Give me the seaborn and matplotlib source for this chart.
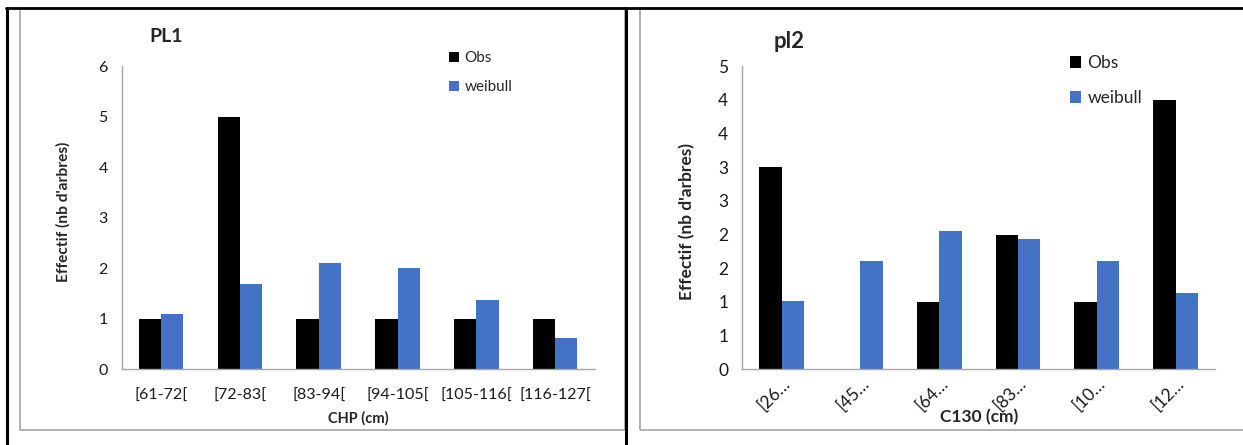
import numpy as np
import pandas as pd
import matplotlib
matplotlib.use("Agg")
import matplotlib.pyplot as plt
import seaborn as sns
from matplotlib.lines import Line2D
from matplotlib.patches import Rectangle, Patch

# ---------------- data ----------------
pl1_classes = ["[61-72[", "[72-83[", "[83-94[", "[94-105[", "[105-116[", "[116-127["]
pl1_obs = [1, 5, 1, 1, 1, 1]
pl1_weibull = [1.09, 1.69, 2.10, 2.00, 1.37, 0.61]

pl2_classes = ["[26…", "[45…", "[64…", "[83…", "[10…", "[12…"]
pl2_obs = [3, 0, 1, 2, 1, 4]
pl2_weibull = [1.02, 1.61, 2.06, 1.94, 1.61, 1.14]

series_names = ["Obs", "weibull"]
pl1_yticks = [0, 1, 2, 3, 4, 5, 6]
pl2_yticks = [0, 0.5, 1, 1.5, 2, 2.5, 3, 3.5, 4, 4.5]
pl2_yticklabels = ["0", "1", "1", "2", "2", "3", "3", "4", "4", "5"]

colors = ["#000000", "#4472C4"]
axis_gray = "#A6A6A6"
frame_gray = "#A6A6A6"

sns.set_theme(style="white")
plt.rcParams["font.family"] = ["Lato", "DejaVu Sans"]

W, H = 1243, 445
fig = plt.figure(figsize=(W / 100, H / 100), dpi=100)
fig.patch.set_facecolor("white")


def fx(px):
    return px / W


def fy(py):
    return 1 - py / H


def long_df(classes, obs, wb):
    return pd.DataFrame({
        "classe": classes * 2,
        "effectif": list(obs) + list(wb),
        "serie": [series_names[0]] * len(classes) + [series_names[1]] * len(classes),
    })


def style_axis(ax, n):
    for s in ["top", "right"]:
        ax.spines[s].set_visible(False)
    for s in ["left", "bottom"]:
        ax.spines[s].set_color(axis_gray)
        ax.spines[s].set_linewidth(1.0)
    ax.set_xlim(-0.5, n - 0.5)
    ax.set_xticks(np.arange(-0.5, n, 1.0), minor=True)
    ax.tick_params(axis="x", which="major", length=0, pad=14)
    ax.tick_params(axis="x", which="minor", length=5, color=axis_gray, width=1, direction="out")
    ax.tick_params(axis="y", which="major", length=5, color=axis_gray, width=1, direction="out",
                   pad=5, labelsize=11.5, labelcolor="#1a1a1a")
    ax.grid(False)
    ax.set_facecolor("white")


AX_TOP, AX_BOT = 66.3, 369.3
AX_H = AX_BOT - AX_TOP

# ---------------- left chart ----------------
L0, L1 = 121.7, 594.6
axL = fig.add_axes([fx(L0), fy(AX_BOT), fx(L1) - fx(L0), fy(AX_TOP) - fy(AX_BOT)])
dfL = long_df(pl1_classes, pl1_obs, pl1_weibull)
sns.barplot(data=dfL, x="classe", y="effectif", hue="serie", palette=colors, saturation=1,
            width=0.566, linewidth=0, ax=axL, legend=False)
style_axis(axL, len(pl1_classes))
axL.set_ylim(0, 6)
axL.set_yticks(pl1_yticks)
axL.set_yticklabels([str(v) for v in pl1_yticks])
axL.tick_params(axis="x", labelsize=11.5, labelcolor="#1a1a1a")
axL.set_xlabel("CHP (cm)", fontsize=10.5, fontweight="bold", va="center")
axL.xaxis.set_label_coords((358 - L0) / (L1 - L0), (AX_BOT - 418) / AX_H)
axL.set_ylabel("Effectif (nb d'arbres)", fontsize=11.2, fontweight="bold", va="center")
axL.yaxis.set_label_coords((63 - L0) / (L1 - L0), (AX_BOT - 212) / AX_H)
fig.text(fx(166), fy(36), "PL1", fontsize=14, fontweight="bold", ha="center", va="center")
handles = [Patch(facecolor=c, edgecolor="none") for c in colors]
fig.legend(handles, series_names, loc="upper left", bbox_to_anchor=(fx(449), fy(51)),
           bbox_transform=fig.transFigure, frameon=False, fontsize=11,
           handlelength=0.65, handleheight=0.65, handletextpad=0.35, labelspacing=1.0,
           borderpad=0, borderaxespad=0)

# ---------------- right chart ----------------
R0, R1 = 742.2, 1215.0
axR = fig.add_axes([fx(R0), fy(AX_BOT), fx(R1) - fx(R0), fy(AX_TOP) - fy(AX_BOT)])
dfR = long_df(pl2_classes, pl2_obs, pl2_weibull)
sns.barplot(data=dfR, x="classe", y="effectif", hue="serie", palette=colors, saturation=1,
            width=0.566, linewidth=0, ax=axR, legend=False)
style_axis(axR, len(pl2_classes))
axR.set_ylim(0, 4.5)
axR.set_yticks(pl2_yticks)
axR.set_yticklabels(pl2_yticklabels)
axR.tick_params(axis="y", labelsize=12.5)
axR.tick_params(axis="x", labelsize=12.5, labelcolor="#1a1a1a", pad=4)
for lab in axR.get_xticklabels():
    lab.set_rotation(45)
    lab.set_ha("right")
    lab.set_va("top")
    lab.set_rotation_mode("anchor")
axR.set_xlabel("C130 (cm)", fontsize=12.5, fontweight="bold", va="center")
axR.xaxis.set_label_coords((979 - R0) / (R1 - R0), (AX_BOT - 417) / AX_H)
axR.set_ylabel("Effectif (nb d'arbres)", fontsize=12.5, fontweight="bold", va="center")
axR.yaxis.set_label_coords((687 - R0) / (R1 - R0), (AX_BOT - 222) / AX_H)
fig.text(fx(789), fy(41), "pl2", fontsize=16, fontweight="bold", ha="center", va="center")
fig.legend(handles, series_names, loc="upper left", bbox_to_anchor=(fx(1070), fy(55)),
           bbox_transform=fig.transFigure, frameon=False, fontsize=12.5,
           handlelength=0.65, handleheight=0.65, handletextpad=0.35, labelspacing=1.1,
           borderpad=0, borderaxespad=0)

# ---------------- frames ----------------
fig.add_artist(Rectangle((fx(20), fy(430)), fx(625) - fx(20), fy(8) - fy(430),
                         transform=fig.transFigure, fill=False, edgecolor=frame_gray, linewidth=1.2))
fig.add_artist(Rectangle((fx(640), fy(430)), fx(1250) - fx(640), fy(8) - fy(430),
                         transform=fig.transFigure, fill=False, edgecolor=frame_gray, linewidth=1.2))
fig.add_artist(Line2D([fx(6), fx(1243)], [fy(7.5), fy(7.5)], transform=fig.transFigure,
                      color="black", linewidth=2))
fig.add_artist(Line2D([fx(7), fx(7)], [fy(7.5), fy(445)], transform=fig.transFigure,
                      color="black", linewidth=2.2))
fig.add_artist(Line2D([fx(626), fx(626)], [fy(7.5), fy(445)], transform=fig.transFigure,
                      color="black", linewidth=2.2))

fig.savefig("out.png", dpi=100, facecolor="white")
